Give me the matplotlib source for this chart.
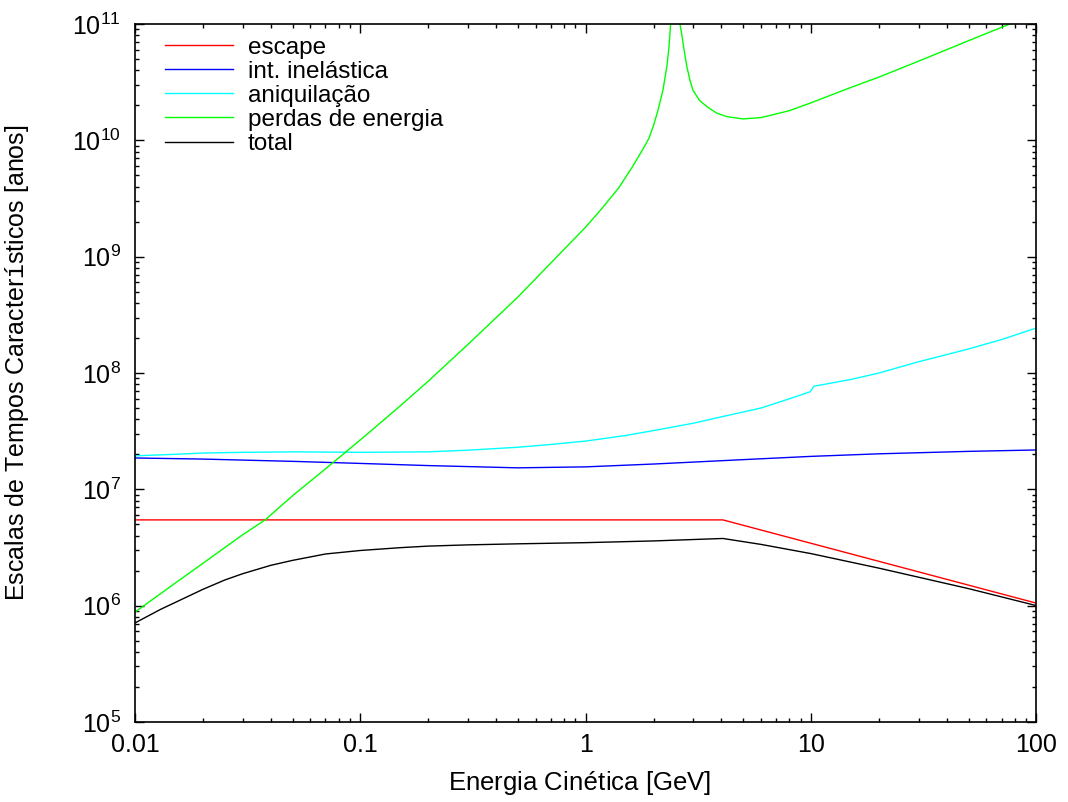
import matplotlib
matplotlib.use('Agg')
import matplotlib.pyplot as plt
from matplotlib.ticker import LogLocator, FixedLocator, FixedFormatter, NullFormatter

plt.rcParams['font.family'] = ['Liberation Sans', 'DejaVu Sans']
# accented letters of the axis titles come out in a typewriter face in the original
plt.rcParams['mathtext.fontset'] = 'custom'
plt.rcParams['mathtext.rm'] = 'Liberation Sans'
plt.rcParams['mathtext.it'] = 'Liberation Sans:italic'
plt.rcParams['mathtext.tt'] = 'Liberation Mono'

# escape time (flat, then falling above the knee)
esc_E = [0.01, 4.06, 100]
esc_t = [5.46e6, 5.46e6, 1.05e6]

# inelastic interactions
inel_E = [0.01, 0.02, 0.05, 0.1, 0.2, 0.5, 1, 2, 5, 10, 20, 50, 100]
inel_t = [1.86e7, 1.82e7, 1.74e7, 1.67e7, 1.6e7, 1.53e7, 1.56e7, 1.65e7, 1.8e7,
          1.92e7, 2.02e7, 2.12e7, 2.18e7]

# annihilation
ann_E = [0.01, 0.015, 0.02, 0.03, 0.05, 0.1, 0.2, 0.3, 0.5, 0.7, 1, 1.5, 2, 3, 4,
         6, 8, 9.9, 10.3, 15, 20, 30, 50, 70, 100]
ann_t = [1.94e7, 2.0e7, 2.05e7, 2.08e7, 2.1e7, 2.08e7, 2.1e7, 2.17e7, 2.3e7, 2.43e7,
         2.6e7, 2.9e7, 3.2e7, 3.7e7, 4.2e7, 5.0e7, 6.0e7, 6.9e7, 7.7e7, 8.8e7, 1.0e8,
         1.25e8, 1.61e8, 1.94e8, 2.44e8]

# energy losses (two branches around the pole near 2.5 GeV)
loss1_E = [0.01, 0.015, 0.02, 0.03, 0.0378, 0.05, 0.07, 0.1, 0.15, 0.2, 0.3, 0.5,
           0.745, 1.0, 1.16, 1.4, 1.6, 1.8, 1.91, 2.0, 2.09, 2.2, 2.29, 2.34, 2.38]
loss1_t = [8.8e5, 1.55e6, 2.31e6, 4.06e6, 5.46e6, 8.8e6, 1.5e7, 2.66e7, 5.2e7, 8.5e7,
           1.76e8, 4.5e8, 1.0e9, 1.8e9, 2.5e9, 3.9e9, 5.8e9, 8.5e9, 1.05e10, 1.35e10,
           1.8e10, 2.7e10, 4.3e10, 6.3e10, 1.0e11]
loss2_E = [2.62, 2.66, 2.72, 2.81, 2.9, 2.99, 3.2, 3.45, 3.8, 4.23, 4.98, 6, 8, 9.9,
           15, 20, 30, 50, 76]
loss2_t = [1.0e11, 8.4e10, 6.3e10, 4.3e10, 3.3e10, 2.7e10, 2.2e10, 1.95e10, 1.72e10,
           1.6e10, 1.53e10, 1.57e10, 1.8e10, 2.09e10, 2.85e10, 3.5e10, 4.8e10, 7.2e10,
           1.0e11]

# total
tot_E = [0.01, 0.013, 0.015, 0.02, 0.025, 0.03, 0.04, 0.05, 0.07, 0.1, 0.15, 0.2,
         0.3, 0.5, 1, 2, 4.06, 6, 10, 20, 50, 100]
tot_t = [7.1e5, 9.3e5, 1.06e6, 1.38e6, 1.66e6, 1.88e6, 2.22e6, 2.45e6, 2.78e6, 2.98e6,
         3.15e6, 3.25e6, 3.33e6, 3.4e6, 3.48e6, 3.6e6, 3.78e6, 3.36e6, 2.8e6, 2.1e6,
         1.4e6, 1.0e6]

x_ticks = [0.01, 0.1, 1, 10, 100]
x_labels = ['0.01', '0.1', '1', '10', '100']
y_ticks = [1e5, 1e6, 1e7, 1e8, 1e9, 1e10, 1e11]

fig = plt.figure(figsize=(10.68, 8.02), dpi=100)
ax = fig.add_axes([0.1264, 0.0998, 0.9705 - 0.1264, 0.970 - 0.0998])

ax.plot(esc_E, esc_t, color='#ff0000', lw=1.0, label='escape')
ax.plot(inel_E, inel_t, color='#0000ff', lw=1.0, label='int. inelástica')
ax.plot(ann_E, ann_t, color='#00ffff', lw=1.0, label='aniquilação')
ax.plot(loss1_E, loss1_t, color='#00ff00', lw=1.0, label='perdas de energia')
ax.plot(loss2_E, loss2_t, color='#00ff00', lw=1.0)
ax.plot(tot_E, tot_t, color='#000000', lw=1.0, label='total')

ax.set_xscale('log')
ax.set_yscale('log')
ax.set_xlim(0.01, 100)
ax.set_ylim(1e5, 1e11)

ax.xaxis.set_major_locator(FixedLocator(x_ticks))
ax.xaxis.set_major_formatter(FixedFormatter(x_labels))
ax.xaxis.set_minor_locator(LogLocator(base=10, subs=range(2, 10), numticks=20))
ax.xaxis.set_minor_formatter(NullFormatter())
ax.yaxis.set_major_locator(FixedLocator(y_ticks))
ax.yaxis.set_minor_locator(LogLocator(base=10, subs=range(2, 10), numticks=20))
ax.yaxis.set_minor_formatter(NullFormatter())

ax.tick_params(which='both', direction='in', top=True, right=True, labelsize=18)
ax.tick_params(which='major', length=6.5, width=1.0)
ax.tick_params(which='minor', length=3.2, width=1.0)
ax.tick_params(axis='x', pad=8)
ax.tick_params(axis='y', pad=10)
for s in ax.spines.values():
    s.set_linewidth(1.2)

ax.set_xlabel(r'Energia Cin$\mathtt{é}$tica [GeV]', fontsize=18.5)
ax.set_ylabel(r'Escalas de Tempos Caracter$\mathtt{í}$sticos [anos]', fontsize=18)
ax.xaxis.set_label_coords(0.493, -0.068)
ax.yaxis.set_label_coords(-0.115, 0.515)

ax.legend(loc='upper left', frameon=False, fontsize=17.5, handlelength=2.8,
          handletextpad=0.62, labelspacing=0.086, borderpad=0, borderaxespad=0,
          bbox_to_anchor=(0.033, 0.982))

fig.savefig('out.png', dpi=100)
